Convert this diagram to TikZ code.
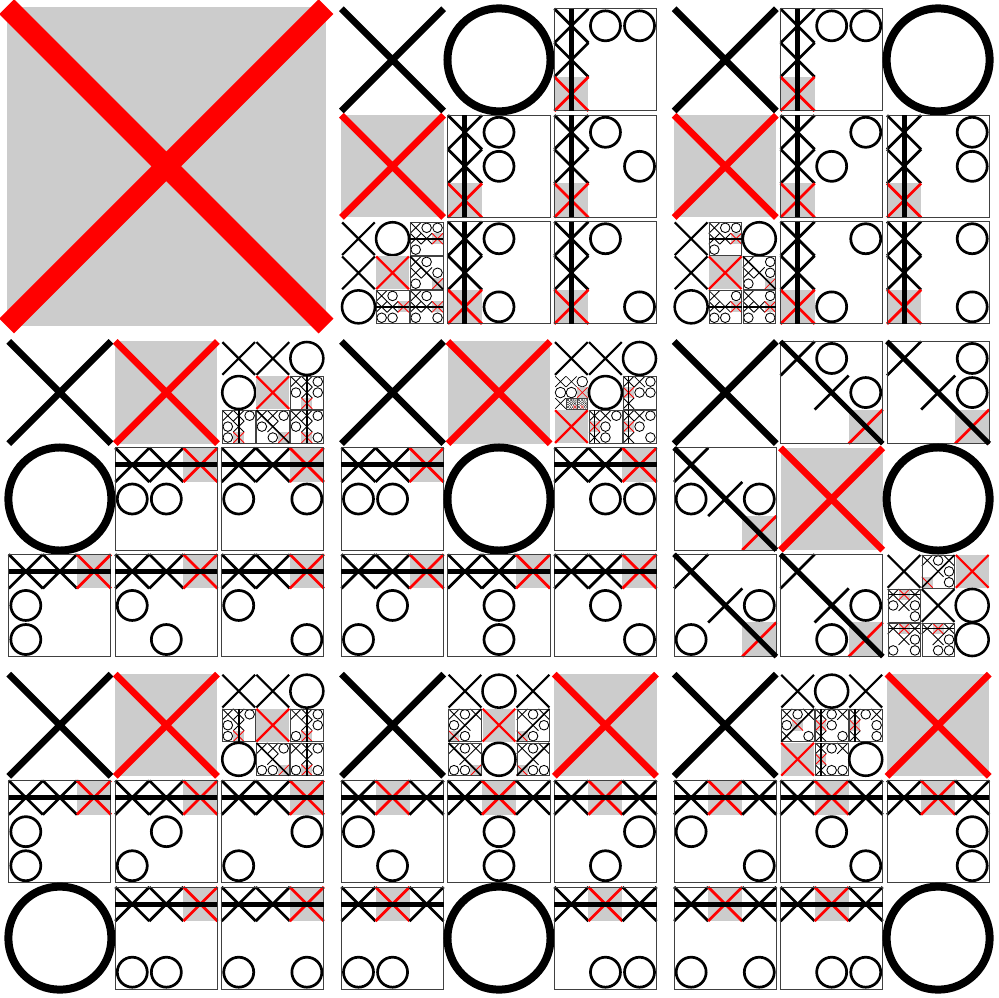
\documentclass[tikz,border=0pt]{standalone}
\definecolor{cellgray}{gray}{0.8}
\tikzset{
  framebox/.style={draw=black!75},
  win r0/.style={insert path={(0,.5) -- (3,.5)}},
  win r1/.style={insert path={(0,1.5) -- (3,1.5)}},
  win c0/.style={insert path={(.5,0) -- (.5,3)}},
  win c1/.style={insert path={(1.5,0) -- (1.5,3)}},
  win d1/.style={insert path={(0,0) -- (3,3)}},
  win d2/.style={insert path={(3,0) -- (0,3)}}
}
% board being filled: corner, size, margins and pen sizes
\newcommand\bx{0}
\newcommand\by{0}
\newcommand\bs{998}
\newcommand\inset{0.02}
\newcommand\xw{0.063}
\newcommand\ow{0.075}
\newcommand\orad{0.484}
\newcommand\parsecells[9]{%
  \drawcell{0}{0}{#1}\drawcell{0}{1}{#2}\drawcell{0}{2}{#3}%
  \drawcell{1}{0}{#4}\drawcell{1}{1}{#5}\drawcell{1}{2}{#6}%
  \drawcell{2}{0}{#7}\drawcell{2}{1}{#8}\drawcell{2}{2}{#9}}
\newcommand\drawcell[3]{\begingroup
  \pgfmathsetmacro\cellp{\bs/3}%
  \pgfmathsetmacro\cellx{\bx+(#2+\inset)*\cellp}%
  \pgfmathsetmacro\celly{\by+(#1+\inset)*\cellp}%
  \pgfmathsetmacro\cells{(1-2*\inset)*\cellp}%
  #3\endgroup}
% marks
\newcommand\cE{}
\newcommand\cX[1][black]{\pgfmathsetmacro\lw{\xw*\cellp}%
  \draw[#1,line width=\lw pt] (\cellx,\celly) -- ++(\cells,\cells)
    (\cellx+\cells,\celly) -- ++(-\cells,\cells);}
\newcommand\cO{\pgfmathsetmacro\lw{\ow*\cellp}\pgfmathsetmacro\orr{\orad*\cellp}%
  \draw[line width=\lw pt] (\cellx+\cells/2,\celly+\cells/2) circle[radius=\orr pt];}
\newcommand\cR{\fill[cellgray] (\cellx,\celly) rectangle ++(\cells,\cells);\cX[red]}
% a game still going on, a drawn game, a won game
\newcommand\cN[1]{\let\bx\cellx \let\by\celly \let\bs\cells \parsecells#1}
\newcommand\cD[1]{\let\bx\cellx \let\by\celly \let\bs\cells
  \def\inset{0}\def\xw{0.08}\def\ow{0.08}\def\orad{0.44}%
  \parsecells#1%
  \pgfmathsetmacro\lw{0.01*\cells}%
  \draw[framebox,line width=\lw pt] (\cellx,\celly) rectangle ++(\cells,\cells);}
\newcommand\cT[2]{\cD{#1}%
  \pgfmathsetmacro\cellp{\cells/3}\pgfmathsetmacro\lw{0.15*\cellp}%
  \begin{scope}[shift={(\cellx,\celly)},x=\cellp pt,y=-\cellp pt]
    \draw[line width=\lw pt,win #2];
  \end{scope}}
% O's first answer
\newcommand\oTop{\cN{
  \cX \cO {\cT{\cX\cO\cO \cX\cE\cE \cR\cE\cE}{c0}}
  \cR {\cT{\cX\cO\cE \cX\cO\cE \cR\cE\cE}{c0}} {\cT{\cX\cO\cE \cX\cE\cO \cR\cE\cE}{c0}}
  {\cN{\cX \cO {\cT{\cX\cO\cO \cX\cX\cR \cO\cE\cE}{r1}}
       \cX \cR {\cT{\cX\cO\cE \cX\cX\cO \cO\cE\cR}{d1}}
       \cO {\cT{\cX\cO\cE \cX\cX\cR \cO\cO\cE}{r1}} {\cT{\cX\cO\cE \cX\cX\cR \cO\cE\cO}{r1}}}}
  {\cT{\cX\cO\cE \cX\cE\cE \cR\cO\cE}{c0}} {\cT{\cX\cO\cE \cX\cE\cE \cR\cE\cO}{c0}}}}
\newcommand\oTopRight{\cN{
  \cX {\cT{\cX\cO\cO \cX\cE\cE \cR\cE\cE}{c0}} \cO
  \cR {\cT{\cX\cE\cO \cX\cO\cE \cR\cE\cE}{c0}} {\cT{\cX\cE\cO \cX\cE\cO \cR\cE\cE}{c0}}
  {\cN{\cX {\cT{\cX\cO\cO \cX\cX\cR \cO\cE\cE}{r1}} \cO
       \cX \cR {\cT{\cX\cE\cO \cX\cX\cO \cO\cE\cR}{d1}}
       \cO {\cT{\cX\cE\cO \cX\cX\cR \cO\cO\cE}{r1}} {\cT{\cX\cE\cO \cX\cX\cR \cO\cE\cO}{r1}}}}
  {\cT{\cX\cE\cO \cX\cE\cE \cR\cO\cE}{c0}} {\cT{\cX\cE\cO \cX\cE\cE \cR\cE\cO}{c0}}}}
\newcommand\oLeft{\cN{
  \cX \cR {\cN{\cX\cX\cO
       \cO \cR {\cT{\cX\cX\cO \cO\cX\cO \cE\cR\cE}{c1}}
       {\cT{\cX\cX\cO \cO\cX\cE \cO\cR\cE}{c1}} {\cT{\cX\cX\cO \cO\cX\cE \cE\cO\cR}{d1}} {\cT{\cX\cX\cO \cO\cX\cE \cE\cR\cO}{c1}}}}
  \cO {\cT{\cX\cX\cR \cO\cO\cE \cE\cE\cE}{r0}} {\cT{\cX\cX\cR \cO\cE\cO \cE\cE\cE}{r0}}
  {\cT{\cX\cX\cR \cO\cE\cE \cO\cE\cE}{r0}} {\cT{\cX\cX\cR \cO\cE\cE \cE\cO\cE}{r0}} {\cT{\cX\cX\cR \cO\cE\cE \cE\cE\cO}{r0}}}}
\newcommand\oCentre{\cN{
  \cX \cR {\cN{\cX\cX\cO
       {\cN{\cX\cX\cO \cO\cO\cR \cX {\cD{\cX\cX\cO \cO\cO\cX \cX\cO\cR}} {\cD{\cX\cX\cO \cO\cO\cX \cX\cR\cO}}}}
       \cO {\cT{\cX\cX\cO \cR\cO\cO \cX\cE\cE}{c0}}
       \cR {\cT{\cX\cX\cO \cR\cO\cE \cX\cO\cE}{c0}} {\cT{\cX\cX\cO \cR\cO\cE \cX\cE\cO}{c0}}}}
  {\cT{\cX\cX\cR \cO\cO\cE \cE\cE\cE}{r0}} \cO {\cT{\cX\cX\cR \cE\cO\cO \cE\cE\cE}{r0}}
  {\cT{\cX\cX\cR \cE\cO\cE \cO\cE\cE}{r0}} {\cT{\cX\cX\cR \cE\cO\cE \cE\cO\cE}{r0}} {\cT{\cX\cX\cR \cE\cO\cE \cE\cE\cO}{r0}}}}
\newcommand\oRight{\cN{
  \cX {\cT{\cX\cO\cE \cE\cX\cO \cE\cE\cR}{d1}} {\cT{\cX\cE\cO \cE\cX\cO \cE\cE\cR}{d1}}
  {\cT{\cX\cE\cE \cO\cX\cO \cE\cE\cR}{d1}} \cR \cO
  {\cT{\cX\cE\cE \cE\cX\cO \cO\cE\cR}{d1}} {\cT{\cX\cE\cE \cE\cX\cO \cE\cO\cR}{d1}}
  {\cN{\cX {\cT{\cX\cO\cX \cE\cX\cO \cR\cE\cO}{d2}} \cR
       {\cT{\cX\cR\cX \cO\cX\cO \cE\cE\cO}{r0}} \cX \cO
       {\cT{\cX\cR\cX \cE\cX\cO \cO\cE\cO}{r0}} {\cT{\cX\cR\cX \cE\cX\cO \cE\cO\cO}{r0}} \cO}}}}
\newcommand\oBottomLeft{\cN{
  \cX \cR {\cN{\cX\cX\cO
       {\cT{\cX\cX\cO \cO\cX\cE \cO\cR\cE}{c1}} \cR {\cT{\cX\cX\cO \cE\cX\cO \cO\cR\cE}{c1}}
       \cO {\cT{\cX\cX\cO \cE\cX\cE \cO\cO\cR}{d1}} {\cT{\cX\cX\cO \cE\cX\cE \cO\cR\cO}{c1}}}}
  {\cT{\cX\cX\cR \cO\cE\cE \cO\cE\cE}{r0}} {\cT{\cX\cX\cR \cE\cO\cE \cO\cE\cE}{r0}} {\cT{\cX\cX\cR \cE\cE\cO \cO\cE\cE}{r0}}
  \cO {\cT{\cX\cX\cR \cE\cE\cE \cO\cO\cE}{r0}} {\cT{\cX\cX\cR \cE\cE\cE \cO\cE\cO}{r0}}}}
\newcommand\oBottom{\cN{
  \cX {\cN{\cX\cO\cX
       {\cT{\cX\cO\cX \cO\cX\cE \cR\cO\cE}{d2}} \cR {\cT{\cX\cO\cX \cE\cX\cO \cR\cO\cE}{d2}}
       {\cT{\cX\cO\cX \cE\cX\cE \cO\cO\cR}{d1}} \cO {\cT{\cX\cO\cX \cE\cX\cE \cR\cO\cO}{d2}}}} \cR
  {\cT{\cX\cR\cX \cO\cE\cE \cE\cO\cE}{r0}} {\cT{\cX\cR\cX \cE\cO\cE \cE\cO\cE}{r0}} {\cT{\cX\cR\cX \cE\cE\cO \cE\cO\cE}{r0}}
  {\cT{\cX\cR\cX \cE\cE\cE \cO\cO\cE}{r0}} \cO {\cT{\cX\cR\cX \cE\cE\cE \cE\cO\cO}{r0}}}}
\newcommand\oBottomRight{\cN{
  \cX {\cN{\cX\cO\cX
       {\cT{\cX\cO\cX \cO\cR\cE \cX\cE\cO}{d2}} {\cT{\cX\cO\cX \cR\cO\cE \cX\cE\cO}{c0}} {\cT{\cX\cO\cX \cR\cE\cO \cX\cE\cO}{c0}}
       \cR {\cT{\cX\cO\cX \cR\cE\cE \cX\cO\cO}{c0}} \cO}} \cR
  {\cT{\cX\cR\cX \cO\cE\cE \cE\cE\cO}{r0}} {\cT{\cX\cR\cX \cE\cO\cE \cE\cE\cO}{r0}} {\cT{\cX\cR\cX \cE\cE\cO \cE\cE\cO}{r0}}
  {\cT{\cX\cR\cX \cE\cE\cE \cO\cE\cO}{r0}} {\cT{\cX\cR\cX \cE\cE\cE \cE\cO\cO}{r0}} \cO}}
\begin{document}
\begin{tikzpicture}[x=1pt,y=-1pt]
\useasboundingbox (0,0) rectangle (998,998);
% X opens in the corner
\parsecells{\cR}{\oTop}{\oTopRight}
           {\oLeft}{\oCentre}{\oRight}
           {\oBottomLeft}{\oBottom}{\oBottomRight}
\end{tikzpicture}
\end{document}
